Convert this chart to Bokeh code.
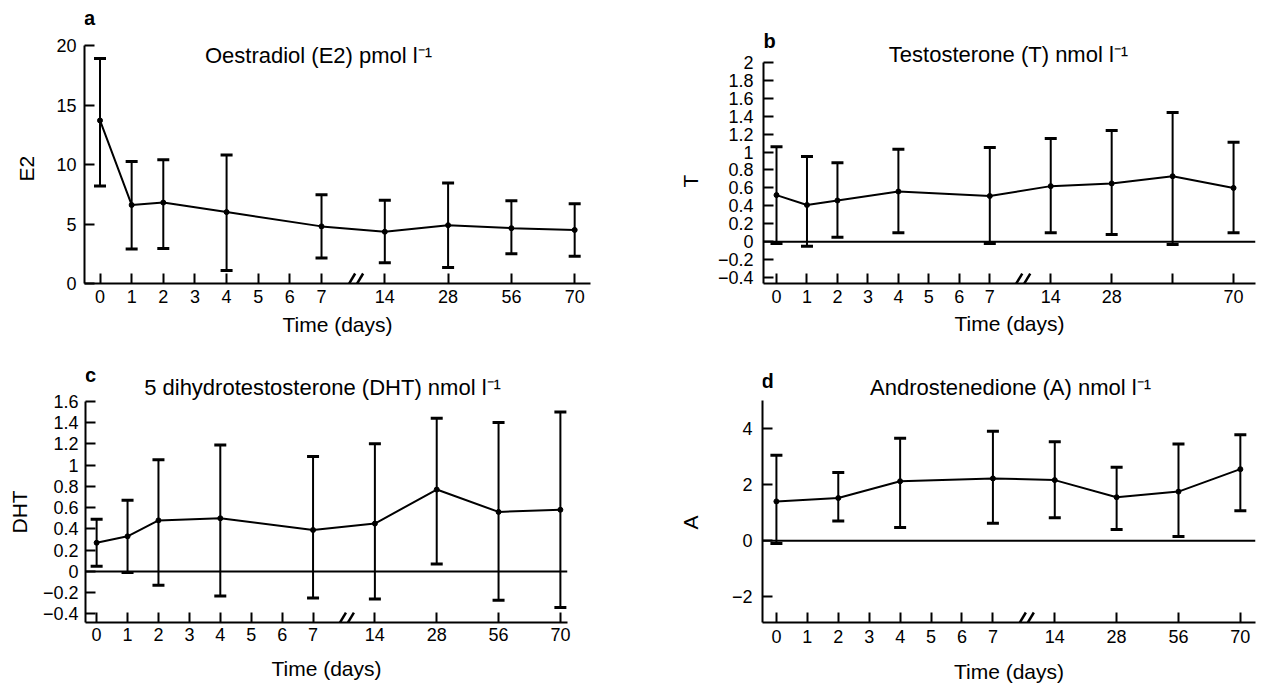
from bokeh.plotting import figure
from bokeh.models import (FixedTicker, Range1d, Whisker, TeeHead, ColumnDataSource,
                          Label, Span, Arrow, Title)
from bokeh.layouts import row, column
from bokeh.embed import file_html
from bokeh.resources import INLINE

FONT = "Liberation Sans"

# ---------------- data ----------------
tick_days = [0, 1, 2, 3, 4, 5, 6, 7, 14, 28, 56, 70]
tick_labels = ["0", "1", "2", "3", "4", "5", "6", "7", "14", "28", "56", "70"]
tick_labels_b = ["0", "1", "2", "3", "4", "5", "6", "7", "14", "28", "", "70"]

days_abc = [0, 1, 2, 4, 7, 14, 28, 56, 70]

e2_mean = [13.7, 6.6, 6.8, 6.0, 4.8, 4.35, 4.9, 4.65, 4.5]
e2_lower = [8.2, 2.9, 2.95, 1.1, 2.15, 1.75, 1.35, 2.5, 2.3]
e2_upper = [18.9, 10.25, 10.4, 10.8, 7.45, 7.0, 8.45, 6.95, 6.7]

t_mean = [0.52, 0.41, 0.46, 0.56, 0.51, 0.62, 0.65, 0.73, 0.60]
t_lower = [-0.02, -0.05, 0.05, 0.10, -0.02, 0.10, 0.08, -0.03, 0.10]
t_upper = [1.06, 0.95, 0.88, 1.03, 1.05, 1.15, 1.24, 1.44, 1.11]

dht_mean = [0.27, 0.33, 0.48, 0.50, 0.39, 0.45, 0.77, 0.56, 0.58]
dht_lower = [0.05, -0.01, -0.13, -0.23, -0.25, -0.26, 0.07, -0.27, -0.34]
dht_upper = [0.49, 0.67, 1.05, 1.19, 1.08, 1.20, 1.44, 1.40, 1.50]

days_d = [0, 2, 4, 7, 14, 28, 56, 70]
a_mean = [1.40, 1.52, 2.12, 2.22, 2.16, 1.55, 1.75, 2.55]
a_lower = [-0.10, 0.70, 0.47, 0.62, 0.82, 0.40, 0.15, 1.07]
a_upper = [3.05, 2.43, 3.65, 3.90, 3.53, 2.62, 3.45, 3.78]

e2_yticks = [0, 5, 10, 15, 20]
e2_ylabels = ["0", "5", "10", "15", "20"]
t_yticks = [-0.4, -0.2, 0, 0.2, 0.4, 0.6, 0.8, 1.0, 1.2, 1.4, 1.6, 1.8, 2.0]
t_ylabels = ["\u22120.4", "\u22120.2", "0", "0.2", "0.4", "0.6", "0.8", "1", "1.2", "1.4",
             "1.6", "1.8", "2"]
dht_yticks = [-0.4, -0.2, 0, 0.2, 0.4, 0.6, 0.8, 1.0, 1.2, 1.4, 1.6]
dht_ylabels = ["\u22120.4", "\u22120.2", "0", "0.2", "0.4", "0.6", "0.8", "1", "1.2", "1.4", "1.6"]
a_yticks = [-2, 0, 2, 4]
a_ylabels = ["\u22122", "0", "2", "4"]


def xpos(d):
    """Broken time axis: 0..7 evenly, then 14, 28, 56, 70 two units apart."""
    i = tick_days.index(d)
    return i if i <= 7 else 7 + 2 * (i - 7)


def panel(width, height, mb, top_px, xr, yr, yticks, ylabels, ylabel, days, mean, lower, upper,
          xlabels, title, letter, title_xy, letter_xy, ylab_offset, ylab_standoff,
          ylab_major_standoff, x_major_standoff, x_label_standoff, zero_line):
    left, right, bottom = mb
    fw = width - left - right
    fh = height - bottom
    xppu = fw / (xr[1] - xr[0])
    yppu = (fh - top_px) / (yr[1] - yr[0])
    y_top = yr[1] + top_px / yppu      # frame reaches the top so texts are not clipped
    p = figure(width=width, height=height, output_backend="svg", toolbar_location=None,
               x_range=Range1d(*xr), y_range=Range1d(yr[0], y_top),
               min_border_left=left, min_border_right=right,
               min_border_top=0, min_border_bottom=bottom)
    p.outline_line_color = None
    p.xgrid.grid_line_color = None
    p.ygrid.grid_line_color = None
    p.background_fill_color = "white"
    p.border_fill_color = "white"

    xt = [xpos(d) for d in tick_days]
    p.xaxis.ticker = FixedTicker(ticks=xt)
    p.xaxis.major_label_overrides = {v: l for v, l in zip(xt, xlabels)}
    p.yaxis.ticker = FixedTicker(ticks=yticks)
    p.yaxis.major_label_overrides = {v: l for v, l in zip(yticks, ylabels)}
    p.yaxis.bounds = (yr[0], yr[1])

    for ax in (p.xaxis[0], p.yaxis[0]):
        ax.axis_line_width = 2
        ax.axis_line_color = "black"
        ax.major_tick_in = 10
        ax.major_tick_out = 0
        ax.major_tick_line_width = 2
        ax.major_tick_line_color = "black"
        ax.minor_tick_line_color = None
        ax.major_label_text_font = FONT
        ax.major_label_text_font_size = "18px"
        ax.major_label_text_color = "black"
        ax.axis_label_text_font = FONT
        ax.axis_label_text_font_size = "21px"
        ax.axis_label_text_font_style = "normal"
        ax.axis_label_text_color = "black"
    p.xaxis.axis_label = "Time (days)"
    p.xaxis.major_label_standoff = x_major_standoff
    p.xaxis.axis_label_standoff = x_label_standoff
    p.yaxis.major_label_standoff = ylab_major_standoff

    # y-axis title, placed along the bounded axis (not the whole frame)
    p.add_layout(Title(text=ylabel, align="left", offset=ylab_offset, vertical_align="top",
                       standoff=ylab_standoff, text_font=FONT, text_font_size="21px",
                       text_font_style="normal", text_color="black"), "left")

    if zero_line:
        p.add_layout(Span(location=0, dimension="width", line_color="black", line_width=2))

    xs = [xpos(d) for d in days]
    src = ColumnDataSource(dict(x=xs, mean=mean, lower=lower, upper=upper))
    p.add_layout(Whisker(source=src, base="x", lower="lower", upper="upper", dimension="height",
                         line_color="black", line_width=2,
                         upper_head=TeeHead(size=12, line_width=3, line_color="black"),
                         lower_head=TeeHead(size=12, line_width=3, line_color="black")))
    p.line("x", "mean", source=src, line_color="black", line_width=2)
    p.scatter("x", "mean", source=src, size=5, color="black")

    # axis break "//" between day 7 and day 14
    bp = (xpos(7) + xpos(14)) / 2
    for off in (-4, 4):
        p.add_layout(Arrow(end=None, start=None,
                           x_start=bp + (off - 6) / xppu, y_start=yr[0] - 10 / yppu,
                           x_end=bp + (off + 6) / xppu, y_end=yr[0] + 10 / yppu,
                           line_color="black", line_width=2.5))

    p.add_layout(Label(x=title_xy[0], y=title_xy[1], x_units="screen", y_units="screen",
                       text=title, text_font=FONT, text_font_size="22px", text_color="black",
                       text_align="center", text_baseline="middle"))
    p.add_layout(Label(x=letter_xy[0], y=letter_xy[1], x_units="screen", y_units="screen",
                       text=letter, text_font=FONT, text_font_size="20px", text_color="black",
                       text_font_style="bold", text_align="center", text_baseline="middle"))
    return p


pa = panel(630, 340, (82, 40, 57), 45, (-0.49, 15.5), (0, 20), e2_yticks, e2_ylabels, "E2",
           days_abc, e2_mean, e2_lower, e2_upper, tick_labels,
           "Oestradiol (E2) pmol l\u207b\u00b9", "a", (234, 228), (5, 266),
           102, 28, 8, 6, 7, False)
pb = panel(631, 340, (133, 6, 56), 62, (-0.427, 15.72), (-0.465, 2.0), t_yticks, t_ylabels, "T",
           days_abc, t_mean, t_lower, t_upper, tick_labels_b,
           "Testosterone (T) nmol l\u207b\u00b9", "b", (245, 229), (6, 243),
           96, 22, 10, 6, 6, True)
pc = panel(630, 347, (82, 63, 64), 61, (-0.36, 15.23), (-0.48, 1.6), dht_yticks, dht_ylabels, "DHT",
           days_abc, dht_mean, dht_lower, dht_upper, tick_labels,
           "5 dihydrotestosterone (DHT) nmol l\u207b\u00b9", "c", (237, 235), (5, 248),
           89, 14, 7, 5, 13, True)
pd_ = panel(631, 347, (132, 6, 65), 60, (-0.45, 15.49), (-2.92, 5.0), a_yticks, a_ylabels, "A",
            days_d, a_mean, a_lower, a_upper, tick_labels,
            "Androstenedione (A) nmol l\u207b\u00b9", "d", (248, 235), (5, 242),
            93, 50, 10, 7, 14, True)

layout = column(row(pa, pb), row(pc, pd_))
open("out.html", "w").write(file_html(layout, INLINE))
